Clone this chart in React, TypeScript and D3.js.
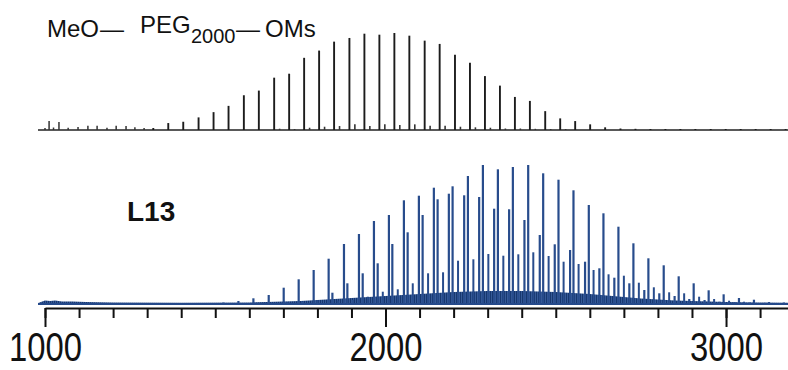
import React, { useEffect, useRef } from 'react';
import * as d3 from 'd3';

// top trace: MeO-PEG2000-OMs, main oligomer series
const pegMz = [1318, 1362, 1406, 1451, 1495, 1539, 1584, 1628, 1673, 1717, 1761, 1805, 1849, 1894, 1938, 1982, 2026, 2070, 2115, 2159, 2204, 2248, 2292, 2336, 2380, 2424, 2469, 2513, 2557, 2601, 2645, 2690, 2734, 2778, 2822, 2866, 2910, 2955, 2999, 3043, 3087, 3131, 3175];
const pegInt = [2, 7, 8.3, 12.7, 18, 24.3, 35, 39.7, 52.7, 56.7, 72.7, 80, 89, 92.7, 97, 96, 97.7, 95, 90, 86.7, 75.7, 67.7, 54.3, 44.7, 33.3, 29.3, 19, 11.7, 9, 5.7, 2.7, 1.5, 1.2, 1, 1, 1, 1, 1, 1, 1, 1, 1, 1];
// small +16 satellites
const pegSatMz = [1689, 1733, 1777, 1821, 1865, 1910, 1954, 1998, 2042, 2086, 2131, 2175, 2220, 2264, 2308, 2352, 2396, 2440, 2485, 2529];
const pegSatInt = [1.3, 1, 2.3, 3.3, 4, 5.7, 4, 5.7, 5, 5.7, 4.3, 4.3, 3.3, 2.7, 2.3, 1.5, 1.5, 1.2, 1, 1];
// low mass clutter
const pegLowMz = [1000, 1025, 1012, 1041, 1068, 1097, 1126, 1153, 1182, 1209, 1238, 1264, 1291];
const pegLowInt = [2, 2.5, 9, 8, 2.3, 3, 4.3, 4.3, 2.3, 4.3, 4, 2.7, 2];

// bottom trace: L13, three overlapping series
const l13AMz = [1480, 1524, 1568, 1612, 1657, 1701, 1745, 1789, 1833, 1878, 1922, 1966, 2010, 2054, 2098, 2142, 2186, 2231, 2275, 2319, 2363, 2408, 2453, 2497, 2542, 2586, 2628, 2672, 2716, 2760, 2804, 2849, 2892, 2937, 2981, 3025, 3070, 3114, 3158];
const l13AInt = [1, 1.5, 3, 5.7, 9, 16.3, 24.7, 34, 45.3, 60, 70, 83, 89, 103.7, 108.3, 116.3, 110.3, 108.7, 107, 95.3, 94.7, 84, 69, 59.7, 54, 42.3, 35.7, 26.3, 20.7, 14, 10.7, 8, 5, 4, 2.3, 2, 1.5, 1.2, 1];
const l13BMz = [1712, 1756, 1800, 1844, 1888, 1933, 1977, 2020, 2065, 2109, 2153, 2197, 2242, 2286, 2330, 2374, 2419, 2463, 2508, 2552, 2597, 2640, 2684, 2728, 2772, 2817, 2861, 2905, 2949, 2993, 3038, 3082, 3126, 3170];
const l13BInt = [2, 2.5, 4, 11.3, 20.7, 30.7, 40.7, 60, 71.7, 89, 104.7, 117.7, 128, 139, 134.7, 137, 139, 130.7, 124.3, 113.7, 99, 90.7, 77.3, 60.7, 45.7, 38.7, 27.7, 20.7, 13.7, 9.7, 6, 4.3, 2, 1.5];
const l13CMz = [1860, 1904, 1948, 1992, 2036, 2080, 2125, 2169, 2213, 2258, 2302, 2346, 2390, 2434, 2479, 2523, 2567, 2611, 2655, 2700, 2744, 2788, 2833, 2877, 2921, 2965, 3009, 3053];
const l13CInt = [3.3, 4, 7.3, 12.3, 14.7, 20.7, 30.7, 31.7, 43.3, 44.7, 50, 48.3, 49.7, 51.7, 48, 42.3, 40, 34, 29.7, 28.3, 21.3, 16.7, 11.7, 10.7, 7.3, 5, 3.3, 2.3];
// dense unresolved floor under the L13 peaks
const l13FloorMz = [980, 1000, 1015, 1030, 1050, 1080, 1120, 1200, 1400, 1600, 1650, 1700, 1750, 1800, 1850, 1900, 1950, 2000, 2050, 2100, 2150, 2200, 2250, 2300, 2350, 2400, 2450, 2500, 2550, 2600, 2650, 2700, 2750, 2800, 2850, 2900, 2950, 3000, 3100, 3182];
const l13FloorInt = [1, 3.5, 3, 3.5, 2.5, 2.5, 2, 1.5, 1.2, 1.5, 2, 2.5, 3, 4, 5, 6, 7, 8, 9, 10, 11, 12, 12.5, 13, 13, 13, 12.5, 12, 11, 10, 8.5, 7, 5.5, 4.5, 3.5, 3, 2.5, 2, 1.5, 1.2];

const majorTicks = [1000, 2000, 3000];
const minorTicks = [1000, 1100, 1200, 1300, 1400, 1500, 1600, 1700, 1800, 1900, 2000, 2100, 2200, 2300, 2400, 2500, 2600, 2700, 2800, 2900, 3000, 3100];

function Spectra() {
  const ref = useRef<SVGSVGElement>(null);

  useEffect(() => {
    const svg = d3.select(ref.current);
    svg.selectAll('*').remove();

    const x = d3.scaleLinear().domain([1000, 3182]).range([45, 788]);
    const yTop = d3.scaleLinear().domain([0, 97.7]).range([130, 33]);
    const yBot = d3.scaleLinear().domain([0, 139]).range([304, 165]);

    // hatched texture for the unresolved floor
    const pat = svg.append('defs').append('pattern')
      .attr('id', 'hatch')
      .attr('patternUnits', 'userSpaceOnUse')
      .attr('width', 2).attr('height', 4);
    pat.append('rect').attr('width', 2).attr('height', 4).attr('fill', '#3d63a3');
    pat.append('rect').attr('width', 1.2).attr('height', 4).attr('fill', '#17376e');

    const sticks = (mz: number[], it: number[], y: d3.ScaleLinear<number, number>, color: string, w: number) => {
      svg.append('g')
        .selectAll('line')
        .data(mz)
        .join('line')
        .attr('x1', (d) => x(d))
        .attr('x2', (d) => x(d))
        .attr('y1', y(0))
        .attr('y2', (d, i) => y(it[i]))
        .attr('stroke', color)
        .attr('stroke-width', w);
    };

    // top trace
    svg.append('line')
      .attr('x1', 38).attr('x2', 788)
      .attr('y1', yTop(0)).attr('y2', yTop(0))
      .attr('stroke', '#222').attr('stroke-width', 1.6);
    sticks(pegLowMz, pegLowInt, yTop, '#333', 1.5);
    sticks(pegSatMz, pegSatInt, yTop, '#333', 1.6);
    sticks(pegMz, pegInt, yTop, '#1c1c1c', 1.9);

    // bottom trace
    const floor = d3.area<number>()
      .x((d) => x(d))
      .y0(yBot(0))
      .y1((d, i) => yBot(l13FloorInt[i]));
    svg.append('path')
      .datum(l13FloorMz)
      .attr('d', floor)
      .attr('fill', 'url(#hatch)');
    svg.append('line')
      .attr('x1', 38).attr('x2', 788)
      .attr('y1', yBot(0)).attr('y2', yBot(0))
      .attr('stroke', '#24498a').attr('stroke-width', 1.8);
    sticks(l13CMz, l13CInt, yBot, '#284c8c', 2);
    sticks(l13AMz, l13AInt, yBot, '#284c8c', 2.2);
    sticks(l13BMz, l13BInt, yBot, '#284c8c', 2.2);

    // x axis
    const axisY = 308;
    svg.append('g')
      .attr('transform', `translate(0,${axisY})`)
      .call(d3.axisBottom(x).tickValues(minorTicks).tickSize(10).tickSizeOuter(0).tickFormat(() => ''))
      .call((g) => g.selectAll('path,line').attr('stroke', '#111').attr('stroke-width', 2));
    const major = svg.append('g')
      .attr('transform', `translate(0,${axisY})`)
      .call(d3.axisBottom(x).tickValues(majorTicks).tickSize(19).tickPadding(6).tickSizeOuter(0).tickFormat(d3.format('d')));
    major.select('.domain').remove();
    major.selectAll('line').attr('stroke', '#111').attr('stroke-width', 2);
    major.selectAll('text')
      .attr('fill', '#111')
      .style('font-family', 'Liberation Sans, Arial, sans-serif')
      .style('font-size', '40px')
      .attr('textLength', 73)
      .attr('lengthAdjust', 'spacingAndGlyphs');
  }, []);

  return (
    <svg ref={ref} width={788} height={370} style={{ position: 'absolute', left: 0, top: 0 }} />
  );
}

function Labels() {
  const font = 'Liberation Sans, Arial, sans-serif';
  return (
    <svg width={788} height={370} style={{ position: 'absolute', left: 0, top: 0, pointerEvents: 'none' }}>
      <g fontFamily={font} fill="#111">
        <text x={47} y={36.7} fontSize={24}>MeO</text>
        <text x={100} y={36.7} fontSize={24}>—</text>
        <text x={140} y={33.3} fontSize={24}>PEG</text>
        <text x={191} y={43} fontSize={20}>2000</text>
        <text x={236} y={36.7} fontSize={24}>—</text>
        <text x={265} y={36.7} fontSize={24}>OMs</text>
        <text x={127} y={221} fontSize={28} fontWeight="bold">L13</text>
      </g>
    </svg>
  );
}

export default function App() {
  return (
    <div>
      <Spectra />
      <Labels />
    </div>
  );
}
